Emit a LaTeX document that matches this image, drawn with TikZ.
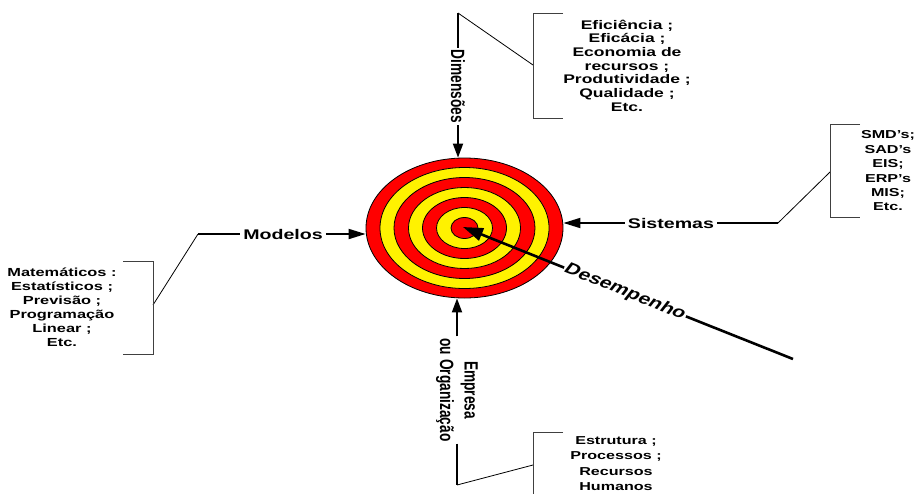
\documentclass[tikz,border=0pt]{standalone}
\usepackage{fontspec}
\setmainfont{Liberation Sans}
\usetikzlibrary{arrows.meta,shapes.geometric}

\begin{document}
\begin{tikzpicture}[x=1pt,y=-1pt,
  hstretch/.style={xscale=1.4},
  mainline/.style={line width=1.8pt},
  htipped/.style={-{Triangle[length=17pt,width=10pt]}},
  vtipped/.style={-{Triangle[length=14pt,width=10pt]}},
  thinline/.style={line width=0.8pt},
  bracket/.style={line width=0.8pt, draw=black!75},
  heading/.style={hstretch, font=\fontsize{14}{16}\selectfont\bfseries, inner sep=2pt},
  axislabel/.style={hstretch, rotate=-90, font=\fontsize{13.7}{17.5}\selectfont\bfseries, align=center, inner sep=2pt},
  itemlist/.style={hstretch, font=\fontsize{11.5}{14}\selectfont\bfseries, align=center, inner sep=0pt},
]
\clip (0,0) rectangle (921,493);
\fill[white] (0,0) rectangle (921,493);

% target rings
\node[ellipse, draw, thinline, fill=red, minimum width=197pt, minimum height=140pt, inner sep=0pt] (target) at (464.5,228) {};
\foreach \rx/\ry/\c in {84.5/60.5/yellow, 70.5/50.5/red, 56/40.5/yellow, 42/30.5/red, 28/20.5/yellow, 13.5/10.5/red}
  \draw[thinline, fill=\c] (target.center) ellipse [x radius=\rx pt, y radius=\ry pt];
\coordinate (bull) at (463,227);

% Dimensoes (top)
\coordinate (dimtop) at (458,13);
\coordinate (dimjoin) at (533,65);
\node[axislabel] (dim) at (458,86.5) {Dimensões};
\draw[mainline] (dimtop) -- (dim.west);
\draw[mainline, vtipped] (dim.east) -- (dim.east |- target.north);
\draw[thinline] (dimtop) -- (dimjoin);
\draw[bracket] (563,13) -- (533,13) -- (533,118) -- (563,118);
\node[itemlist, font=\fontsize{12.5}{13.7}\selectfont\bfseries] (eff) at (627,65.5)
  {Eficiência ;\\Eficácia ;\\Economia de\\recursos ;\\Produtividade ;\\Qualidade ;\\Etc.};

% Sistemas (right)
\node[heading] (sis) at (671,223) {Sistemas};
\coordinate (sisbend) at (778,223);
\coordinate (sisjoin) at (830,172);
\draw[mainline] (sisbend) -- (sis.east);
\draw[mainline, htipped] (sis.west) -- (sis.west -| target.east);
\draw[thinline] (sisbend) -- (sisjoin);
\draw[bracket] (860,124) -- (830,124) -- (830,217) -- (860,217);
\node[itemlist, font=\fontsize{11.5}{14.4}\selectfont\bfseries] (sys) at (888,171)
  {SMD’s;\\SAD’s\\EIS;\\ERP’s\\MIS;\\Etc.};

% Modelos (left)
\node[heading] (mod) at (283,234) {Modelos};
\coordinate (modbend) at (198,234);
\coordinate (modjoin) at (153,305);
\draw[mainline] (modbend) -- (mod.west);
\draw[mainline, htipped] (mod.east) -- (mod.east -| target.west);
\draw[thinline] (modbend) -- (modjoin);
\draw[bracket] (123,261) -- (153,261) -- (153,354) -- (123,354);
\node[itemlist, font=\fontsize{11.7}{14}\selectfont\bfseries] (models) at (62,307)
  {Matemáticos :\\Estatísticos ;\\Previsão ;\\Programação\\Linear ;\\Etc.};

% Empresa ou Organizacao (bottom)
\node[axislabel] (emp) at (457,390) {Empresa\\ou Organização};
\coordinate (empbend) at (457,485);
\coordinate (empjoin) at (533,465);
\draw[mainline, vtipped] (emp.west) -- (emp.west |- target.south);
\draw[mainline] (emp.east) -- (empbend);
\draw[thinline] (empbend) -- (empjoin);
\draw[bracket] (563,432) -- (533,432) -- (533,500);
\node[itemlist, font=\fontsize{11.5}{15.5}\selectfont\bfseries] (org) at (616,463.5)
  {Estrutura ;\\Processos ;\\Recursos\\Humanos};

% Desempenho (diagonal arrow into the centre)
\coordinate (desend) at (793,359);
\node[hstretch, rotate=-29.25, font=\fontsize{15.5}{18}\selectfont\bfseries, inner sep=1pt] (des) at (625,292) {Desempenho};
\draw[line width=2.6pt] (desend) -- (des.east);
\draw[line width=2.6pt, -{Triangle[length=20pt,width=13pt]}] (des.west) -- (bull);
\end{tikzpicture}
\end{document}
